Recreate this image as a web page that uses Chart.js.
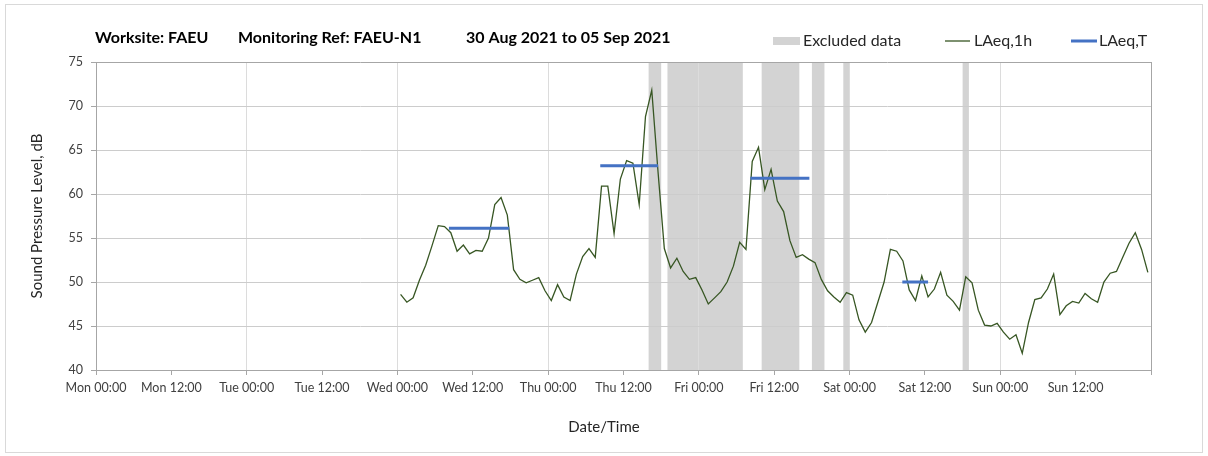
<!DOCTYPE html>
<html><head><meta charset="utf-8">
<script src="https://cdn.jsdelivr.net/npm/chart.js@4.4.1/dist/chart.umd.min.js"></script>
<style>
html,body{margin:0;padding:0;background:#fff;}
#wrap{position:relative;width:1208px;height:456px;}
#frame{position:absolute;left:5px;top:4px;width:1198px;height:449px;border:1px solid #d9d9d9;box-sizing:border-box;pointer-events:none;}
canvas{position:absolute;left:0;top:0;}
</style></head><body>
<div id="wrap"><canvas id="c" width="1208" height="456"></canvas><div id="frame"></div></div>
<script>
// Tick labels every 12 h, hours counted from Mon 00:00
const tickLabels = ['Mon 00:00','Mon 12:00','Tue 00:00','Tue 12:00','Wed 00:00','Wed 12:00',
  'Thu 00:00','Thu 12:00','Fri 00:00','Fri 12:00','Sat 00:00','Sat 12:00','Sun 00:00','Sun 12:00',''];
const titleParts = ['Worksite: FAEU', 'Monitoring Ref: FAEU-N1', '30 Aug 2021 to 05 Sep 2021'];
// LAeq,1h hourly values, first one at Wed 00:30 (48.5 h after Mon 00:00)
const laeq1hFirstHour = 48.5;
const laeq1h = [
  48.6,47.7,48.2,50.2,51.9,54.1,56.4,56.3,55.6,53.5,
  54.2,53.2,53.6,53.5,55.0,58.8,59.6,57.6,51.4,50.3,
  49.9,50.2,50.5,49.0,47.9,49.7,48.3,47.9,50.9,52.9,
  53.8,52.8,60.9,60.9,55.5,61.7,63.8,63.5,58.8,68.8,
  71.8,62.5,53.8,51.6,52.7,51.2,50.3,50.5,49.1,47.5,
  48.2,48.9,50.0,51.8,54.5,53.7,63.7,65.3,60.5,62.8,
  59.2,58.0,54.7,52.8,53.1,52.6,52.2,50.3,49.0,48.3,
  47.7,48.8,48.5,45.7,44.3,45.4,47.7,50.0,53.7,53.5,
  52.4,49.1,47.9,50.7,48.3,49.2,51.1,48.5,47.8,46.8,
  50.6,49.9,46.8,45.1,45.0,45.3,44.3,43.5,44.0,41.9,
  45.4,48.0,48.2,49.2,50.9,46.3,47.3,47.8,47.6,48.7,
  48.1,47.7,50.0,51.0,51.2,52.8,54.4,55.6,53.7,51.1
];
// LAeq,T working periods (hours from Mon 00:00)
const periodStart = [56.2, 80.3, 104.2, 128.4];
const periodEnd   = [65.8, 89.5, 113.6, 132.5];
const periodLevel = [56.1, 63.2, 61.8, 50.0];
// Excluded data periods (hours from Mon 00:00)
const excludedStart = [88, 91, 106, 114, 119, 138];
const excludedEnd   = [90, 103, 112, 116, 120, 139];

const FONT = 'Lato, "Open Sans", sans-serif';
const GREEN = '#375623', BLUE = '#4472C4', GREY = '#d3d3d3';

const lineData = laeq1h.map((v, i) => ({x: laeq1hFirstHour + i, y: v}));
const periodData = [];
periodStart.forEach((s, i) => {
  if (i > 0) periodData.push({x: s - 0.01, y: null});
  periodData.push({x: s, y: periodLevel[i]});
  periodData.push({x: periodEnd[i], y: periodLevel[i]});
});

const bandsPlugin = {
  id: 'bands',
  beforeDraw(chart) {
    const {ctx, chartArea: a, scales: {x}} = chart;
    ctx.save();
    ctx.fillStyle = GREY;
    excludedStart.forEach((s, i) => {
      const x0 = x.getPixelForValue(s), x1 = x.getPixelForValue(excludedEnd[i]);
      ctx.fillRect(x0, a.top, x1 - x0, a.bottom - a.top);
    });
    ctx.restore();
  }
};

const textPlugin = {
  id: 'texts',
  afterDraw(chart) {
    const ctx = chart.ctx;
    ctx.save();
    ctx.textBaseline = 'middle';
    ctx.fillStyle = '#000';
    ctx.font = 'bold 16px ' + FONT;
    const tx = [95, 238, 466];
    titleParts.forEach((t, i) => ctx.fillText(t, tx[i], 38));
    // legend
    ctx.font = '16px ' + FONT;
    ctx.fillStyle = GREY;
    ctx.fillRect(773, 37, 27, 8);
    ctx.fillStyle = '#262626';
    ctx.fillText('Excluded data', 803, 41);
    ctx.strokeStyle = GREEN; ctx.lineWidth = 1.3;
    ctx.beginPath(); ctx.moveTo(945, 41); ctx.lineTo(970, 41); ctx.stroke();
    ctx.fillText(chart.data.datasets[0].label, 974, 41);
    ctx.strokeStyle = BLUE; ctx.lineWidth = 3;
    ctx.beginPath(); ctx.moveTo(1071, 41); ctx.lineTo(1097, 41); ctx.stroke();
    ctx.fillText(chart.data.datasets[1].label, 1099, 41);
    // x axis title
    ctx.font = '15px ' + FONT;
    ctx.textAlign = 'center';
    ctx.fillText('Date/Time', 604, 427);
    ctx.restore();
  }
};

new Chart(document.getElementById('c'), {
  type: 'line',
  data: {
    datasets: [
      {label: 'LAeq,1h', data: lineData, borderColor: GREEN, borderWidth: 1.3, pointRadius: 0, tension: 0, order: 2},
      {label: 'LAeq,T', data: periodData, borderColor: BLUE, borderWidth: 3, pointRadius: 0, spanGaps: false, order: 1}
    ]
  },
  options: {
    responsive: false,
    animation: false,
    devicePixelRatio: 1,
    layout: {padding: {left: 20, right: 57, top: 62, bottom: 16}},
    plugins: {legend: {display: false}, title: {display: false}, tooltip: {enabled: false}},
    scales: {
      x: {
        type: 'linear', min: 0, max: 168,
        afterFit: s => { s.height = 70; },
        afterBuildTicks: s => { s.ticks = tickLabels.map((_, i) => ({value: i * 12})); },
        ticks: {
          autoSkip: false, maxRotation: 0, padding: 5,
          color: '#404040', font: {family: FONT, size: 12.5},
          callback: v => tickLabels[Math.round(v / 12)]
        },
        grid: {
          color: c => (c.tick && c.tick.value === 168) ? '#a6a6a6' : ((c.tick && c.tick.value % 24 === 0) ? '#dcdcdc' : 'rgba(0,0,0,0)'),
          tickColor: '#a6a6a6', tickLength: 5, lineWidth: 1
        },
        border: {color: '#a6a6a6', width: 1}
      },
      y: {
        min: 40, max: 75,
        afterFit: s => { s.width = 76; },
        ticks: {stepSize: 5, padding: 8, color: '#404040', font: {family: FONT, size: 12.5}},
        grid: {color: c => (c.tick && c.tick.value === 75) ? '#a6a6a6' : '#cccccc', tickColor: '#a6a6a6', tickLength: 5},
        border: {color: '#a6a6a6', width: 1},
        title: {display: true, text: 'Sound Pressure Level, dB', color: '#262626', font: {family: FONT, size: 15}, padding: {top: 8, bottom: 0}}
      }
    }
  },
  plugins: [bandsPlugin, textPlugin]
});
</script>
</body></html>
